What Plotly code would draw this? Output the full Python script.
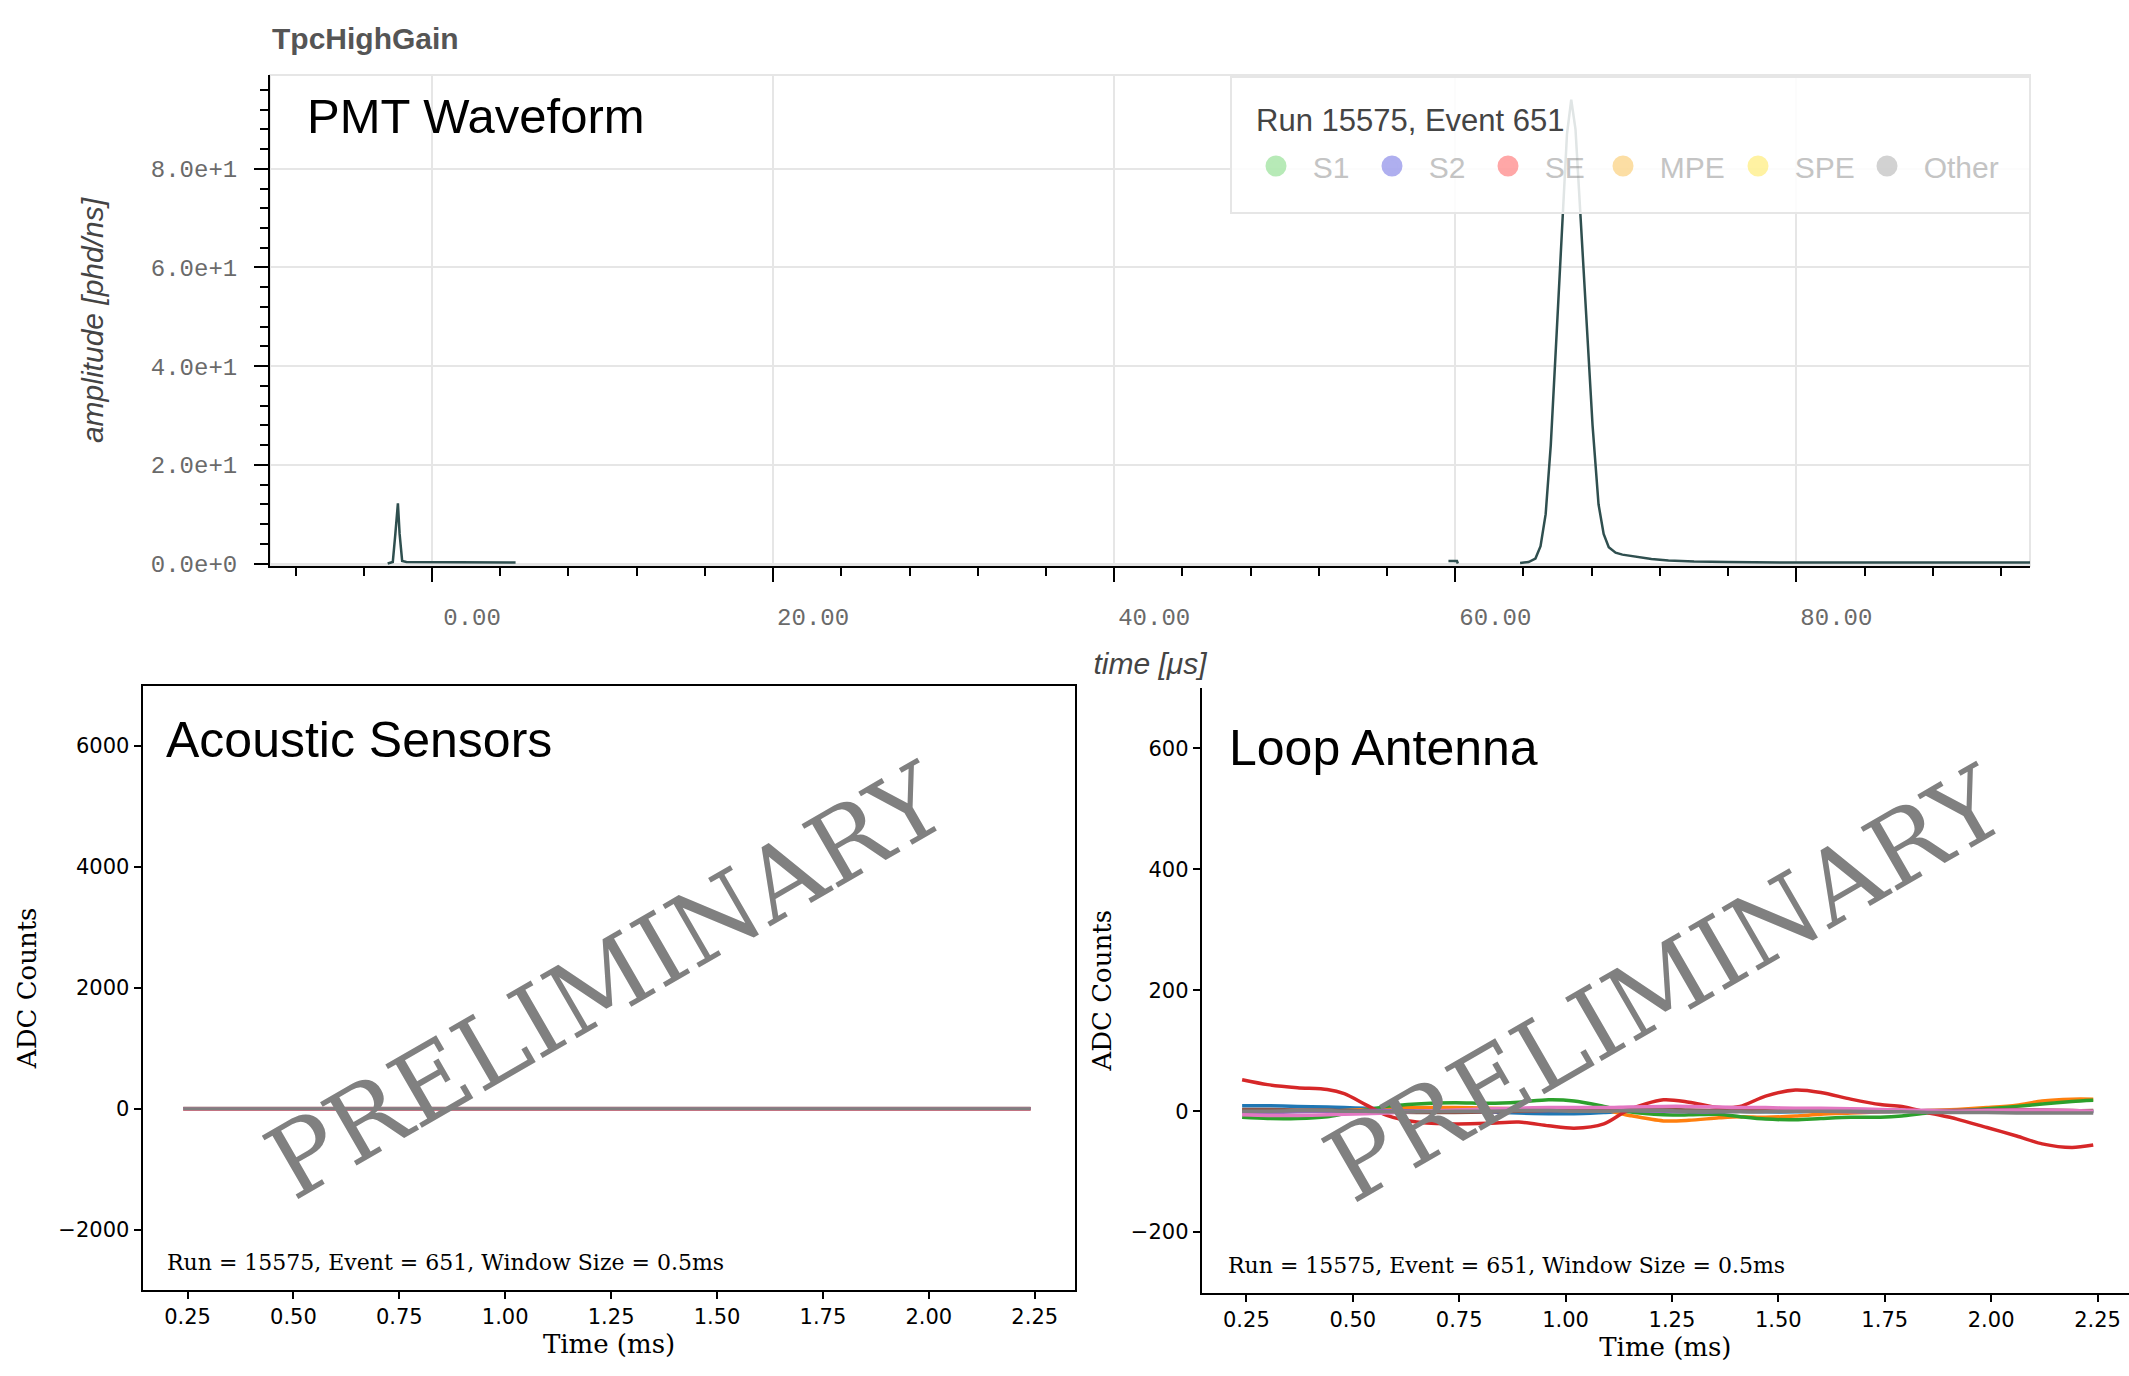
import plotly.graph_objects as go

W, H = 2129, 1376

# ---------------- data ----------------
# PMT waveform (TpcHighGain), time in microseconds, amplitude in phd/ns (None = gap)
pmt_time = [-2.6, -2.3, -2.15, -2.0, -1.9, -1.75, -1.5, 0.0, 2.0, 4.9, None,
            59.6, 60.1, 60.15, None,
            63.8, 64.3, 64.7, 65.0, 65.3, 65.6, 65.95, 66.3, 66.55, 66.8, 67.05,
            67.35, 67.75, 68.05, 68.4, 68.7, 69.0, 69.4, 69.8, 70.5, 71.5, 72.5,
            74.0, 76.0, 80.0, 93.7]
pmt_amp = [0.0, 0.3, 6.0, 12.2, 6.0, 0.5, 0.3, 0.3, 0.2, 0.2, None,
           0.5, 0.5, 0.0, None,
           0.1, 0.3, 1.0, 3.5, 10.0, 24.0, 47.0, 72.0, 87.0, 94.0, 88.0,
           70.0, 47.0, 28.0, 12.0, 6.0, 3.3, 2.2, 1.8, 1.4, 0.9, 0.6,
           0.4, 0.3, 0.2, 0.2]

legend_title = "Run 15575, Event 651"
legend_names = ["S1", "S2", "SE", "MPE", "SPE", "Other"]
legend_colors = ["#71d771", "#6161e1", "#ff5151", "#fbbf4b", "#ffe747", "#a7a7a7"]
legend_widths = [71, 71, 70, 90, 84, 105]

# Acoustic sensors (ADC counts vs time in ms)
ac_time = [0.24, 0.49, 0.74, 0.99, 1.24, 1.49, 1.74, 1.99, 2.24]
ac_ch0 = [4, 3, 5, 2, 4, 3, 2, 4, 3]
ac_ch1 = [-3, -2, -4, -3, -2, -4, -3, -2, -3]
ac_ch2 = [2, 5, 3, 4, 2, 3, 5, 4, 2]
ac_ch3 = [-5, -4, -6, -5, -4, -6, -5, -4, -5]
ac_ch4 = [1, 0, 2, 1, 0, 2, 1, 0, 1]
ac_ch5 = [6, 5, 7, 6, 5, 7, 6, 5, 6]
ac_ch6 = [-1, 0, -2, -1, 0, -2, -1, 0, -1]
ac_ch7 = [0, 1, 0, -1, 0, 1, 0, -1, 0]
ac_channels = [ac_ch0, ac_ch1, ac_ch2, ac_ch3, ac_ch4, ac_ch5, ac_ch6, ac_ch7]

# Loop antenna (ADC counts vs time in ms)
la_time = [0.24, 0.30, 0.37, 0.44, 0.48, 0.53, 0.58, 0.65, 0.74, 0.82, 0.89, 0.96,
           1.02, 1.09, 1.15, 1.23, 1.29, 1.36, 1.41, 1.47, 1.54, 1.60, 1.67, 1.74,
           1.79, 1.85, 1.92, 1.99, 2.06, 2.12, 2.19, 2.24]
la_blue = [9, 9, 8, 7, 6, 5, 4, 3, 1, -1, -3, -4, -4, -2, 0, 1, 1, 0, 0, -1, -1, 0,
           0, 1, 1, 0, -1, 0, 1, 1, 0, 0]
la_orange = [2, 1, 0, 0, 1, 3, 5, 6, 6, 5, 4, 3, 2, 2, -7, -16, -15, -11, -9, -10, -8,
             -5, -3, -1, 0, 1, 3, 6, 10, 17, 20, 20]
la_green = [-10, -12, -12, -9, -4, 2, 8, 12, 14, 13, 15, 19, 17, 8, -1, -6, -6, -5, -9,
            -13, -14, -12, -10, -10, -8, -3, 0, 4, 8, 12, 16, 18]
la_red = [52, 44, 39, 36, 29, 11, -7, -18, -21, -20, -18, -24, -28, -21, 3, 19, 15, 6,
          8, 25, 35, 31, 20, 11, 8, -2, -13, -27, -41, -54, -60, -56]
la_purple = [-2, -2, -1, 0, 0, 1, 1, 0, -1, -1, 0, 1, 2, 2, 1, 0, -1, -1, 0, 1, 1, 0,
             -1, -1, 0, 1, 1, 2, 1, 0, -1, -1]
la_brown = [3, 3, 2, 2, 1, 0, -1, -2, -2, -1, 0, 1, 2, 2, 3, 3, 2, 1, 1, 2, 2, 3, 3,
            2, 1, 0, 1, 2, 3, 2, 1, 1]
la_pink = [-6, -7, -7, -6, -5, -4, -3, 0, 2, 4, 5, 6, 6, 6, 7, 8, 8, 7, 6, 6, 5, 5, 4,
           3, 2, 1, 0, 1, 2, 2, 1, 0]
la_gray = [0, 0, 1, 1, 0, 0, -1, -1, 0, 0, 1, 1, 0, 0, 1, 1, 0, 0, -1, -1, 0, 0, 0, -1,
           -1, -2, -2, -2, -3, -3, -3, -3]
la_channels = [la_blue, la_orange, la_green, la_red, la_purple, la_brown, la_pink, la_gray]

tab10 = ["#1f77b4", "#ff7f0e", "#2ca02c", "#d62728", "#9467bd", "#8c564b", "#e377c2", "#7f7f7f"]

# ---------------- figure ----------------
fig = go.Figure()

fig.add_trace(go.Scatter(x=pmt_time, y=pmt_amp, mode="lines", connectgaps=False,
                         line=dict(color="#2f4f4f", width=2.5), showlegend=False,
                         xaxis="x", yaxis="y"))

for name, col, lw in zip(legend_names, legend_colors, legend_widths):
    fig.add_trace(go.Scatter(x=[None], y=[None], mode="markers", name="\u00a0\u00a0" + name,
                             marker=dict(color=col, size=16, line=dict(color=col, width=5)),
                             visible="legendonly", legendwidth=lw, xaxis="x", yaxis="y"))

for ch, col in zip(ac_channels, tab10):
    fig.add_trace(go.Scatter(x=ac_time, y=ch, mode="lines", line=dict(color=col, width=3),
                             showlegend=False, xaxis="x2", yaxis="y2"))

for ch, col in zip(la_channels, tab10):
    fig.add_trace(go.Scatter(x=la_time, y=ch, mode="lines",
                             line=dict(color=col, width=3.5, shape="spline", smoothing=0.8),
                             showlegend=False, xaxis="x3", yaxis="y3"))

def px_x(p):
    return p / W

def px_y(p):
    return 1 - p / H

bokeh_tick = dict(family="Liberation Mono, DejaVu Sans Mono, monospace", size=24, color="#6a6a6a")
bokeh_title = dict(family="Liberation Sans, Arial, sans-serif", size=30, color="#444444", style="italic")
mpl_tick = dict(family="DejaVu Sans, sans-serif", size=21, color="black")
mpl_title = dict(family="DejaVu Serif, serif", size=26, color="black")

top_x = dict(domain=[px_x(270), px_x(2030)], range=[-9.5, 93.7], anchor="y", automargin=False,
             showline=True, linecolor="black", linewidth=2,
             ticks="outside", ticklen=14, tickwidth=2, tickcolor="black",
             tick0=0, dtick=20, tickformat=".2f", tickfont=bokeh_tick,
             ticklabelshift=40, ticklabelstandoff=14,
             showgrid=True, gridcolor="#e6e6e6", gridwidth=2, zeroline=False,
             minor=dict(tick0=0, dtick=4, ticks="outside", ticklen=8, tickwidth=2,
                        tickcolor="black", showgrid=False),
             title=dict(text="time [μs]", font=bokeh_title, standoff=22))
top_y = dict(domain=[px_y(566), px_y(75)], range=[-0.5, 99], anchor="x", automargin=False,
             showline=True, linecolor="black", linewidth=2,
             ticks="outside", ticklen=14, tickwidth=2, tickcolor="black",
             tick0=0, dtick=20, tickformat=".1e", tickfont=bokeh_tick,
             ticklabelstandoff=12,
             showgrid=True, gridcolor="#e6e6e6", gridwidth=2, zeroline=False,
             minor=dict(tick0=0, dtick=4, ticks="outside", ticklen=8, tickwidth=2,
                        tickcolor="black", showgrid=False),
             title=dict(text="amplitude [phd/ns]", font=bokeh_title, standoff=38))

def mpl_x(domain, rng, anchor, mirror):
    return dict(domain=domain, range=rng, anchor=anchor, automargin=False, showline=True,
                linecolor="black", linewidth=2, mirror=mirror, ticks="outside", ticklen=7,
                tickwidth=2, tickcolor="black", tick0=0.25, dtick=0.25, tickformat=".2f",
                tickfont=mpl_tick, showgrid=False, zeroline=False,
                title=dict(text="Time (ms)", font=mpl_title, standoff=6))

def mpl_y(domain, rng, anchor, dtick, mirror, standoff):
    return dict(domain=domain, range=rng, anchor=anchor, automargin=False, showline=True,
                linecolor="black", linewidth=2, mirror=mirror, ticks="outside", ticklen=7,
                tickwidth=2, tickcolor="black", tick0=0, dtick=dtick, tickfont=mpl_tick,
                showgrid=False, zeroline=False,
                title=dict(text="ADC Counts", font=mpl_title, standoff=standoff))

sans = "Liberation Sans, Arial, sans-serif"
annotations = [
    dict(text="<b>TpcHighGain</b>", x=px_x(270), y=px_y(38), xanchor="left", yanchor="middle",
         font=dict(family=sans, size=30, color="#555555")),
    dict(text="PMT Waveform", x=px_x(305), y=px_y(116), xanchor="left", yanchor="middle",
         font=dict(family=sans, size=49, color="black")),
    dict(text="Acoustic Sensors", x=px_x(164), y=px_y(740), xanchor="left", yanchor="middle",
         font=dict(family=sans, size=50, color="black")),
    dict(text="Loop Antenna", x=px_x(1227), y=px_y(748), xanchor="left", yanchor="middle",
         font=dict(family=sans, size=50, color="black")),
    dict(text=legend_title, x=px_x(1254), y=px_y(120), xanchor="left", yanchor="middle",
         font=dict(family=sans, size=31, color="#444444")),
    dict(text="Run = 15575, Event = 651, Window Size = 0.5ms", x=px_x(165), y=px_y(1262),
         xanchor="left", yanchor="middle",
         font=dict(family="DejaVu Serif, serif", size=22, color="black")),
    dict(text="Run = 15575, Event = 651, Window Size = 0.5ms", x=px_x(1226), y=px_y(1265),
         xanchor="left", yanchor="middle",
         font=dict(family="DejaVu Serif, serif", size=22, color="black")),
    dict(text="PRELIMINARY", x=px_x(606), y=px_y(981), xanchor="center", yanchor="middle",
         textangle=-30,
         font=dict(family="DejaVu Serif, serif", size=100, color="#808080")),
    dict(text="PRELIMINARY", x=px_x(1665), y=px_y(984), xanchor="center", yanchor="middle",
         textangle=-30,
         font=dict(family="DejaVu Serif, serif", size=100, color="#808080")),
]
for a in annotations:
    a.update(xref="paper", yref="paper", showarrow=False)

shapes = [
    dict(type="rect", xref="x domain", yref="y domain", x0=0, x1=1, y0=0, y1=1,
         line=dict(color="#e6e6e6", width=2), layer="below"),
    dict(type="rect", xref="paper", yref="paper", x0=px_x(1231), x1=px_x(2030),
         y0=px_y(213), y1=px_y(77), fillcolor="rgba(255,255,255,0.85)",
         line=dict(color="#e6e6e6", width=2), layer="above"),
]

fig.update_layout(
    width=W, height=H, margin=dict(l=0, r=0, t=0, b=0, autoexpand=False),
    paper_bgcolor="white", plot_bgcolor="white",
    xaxis=top_x, yaxis=top_y,
    xaxis2=mpl_x([px_x(142.6), px_x(1075.4)], [0.144, 2.346], "y2", True),
    yaxis2=mpl_y([px_y(1290), px_y(685.7)], [-3000, 7000], "x2", 2000, True, 14),
    xaxis3=mpl_x([px_x(1201.7), 1.0], [0.145, 2.324], "y3", False),
    yaxis3=mpl_y([px_y(1292.6), px_y(688)], [-300, 700], "x3", 200, False, 12),
    showlegend=True,
    legend=dict(orientation="h", x=px_x(1256), xanchor="left", y=px_y(166), yanchor="middle",
                bgcolor="rgba(0,0,0,0)", borderwidth=0,
                font=dict(family=sans, size=30, color="#8a8a8a")),
    annotations=annotations, shapes=shapes,
)

fig.write_html("out.html")
